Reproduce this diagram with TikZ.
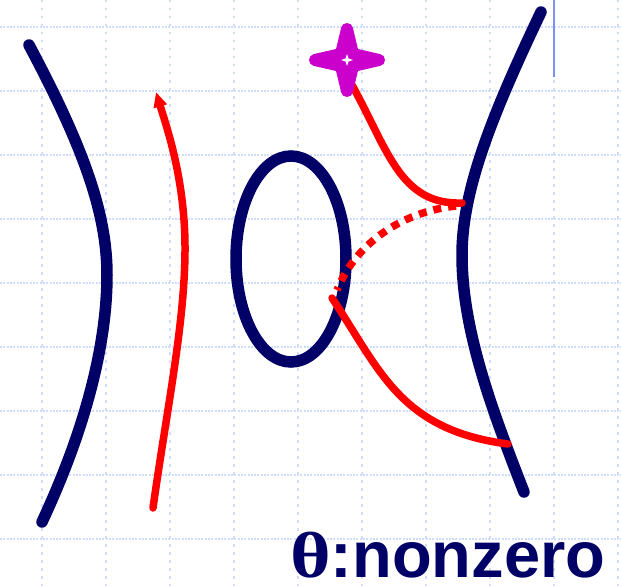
\documentclass[tikz,border=0pt]{standalone}
\usepackage{fontspec}
\setmainfont{Liberation Sans}
\newfontfamily\greekserif{Liberation Serif}
\usetikzlibrary{arrows.meta}
\definecolor{navy}{RGB}{0,0,102}
\definecolor{gridblue}{RGB}{208,220,252}
\definecolor{vline}{RGB}{128,144,240}
\definecolor{starmag}{RGB}{204,0,204}
\begin{document}
\begin{tikzpicture}[x=1pt,y=-1pt,
  gridh/.style={gridblue,line width=2pt,dash pattern=on 2pt off 1.3pt},
  gridv/.style={gridblue,line width=2pt,dash pattern=on 2.5pt off 5.5pt},
  conic/.style={navy,line width=11.5pt,line cap=round},
  ray/.style={red,line width=7.5pt,line cap=round},
  dashray/.style={red,line width=7.5pt,dash pattern=on 8pt off 7pt},
  label/.style={navy,inner sep=0pt,text depth=0pt,font=\fontsize{65}{65}\selectfont\bfseries}]
\useasboundingbox (0,0) rectangle (621,586);
% grid
\foreach \y in {27,91,155,219,283,347,411,475,539} \draw[gridh] (0,\y) -- (621,\y);
\foreach \x in {42,106,170,234,298,362,426,490,554,618} \draw[gridv] (\x,0) -- (\x,586);
\draw[vline,line width=2pt] (554,0) -- (554,77);
% conics
\draw[conic] (29,45) .. controls (85,150) and (107,215) .. (107,275) .. controls (107,345) and (85,430) .. (42,522);
\draw[conic] (541,12) .. controls (492,115) and (462,190) .. (462,255) .. controls (462,330) and (492,410) .. (524,492);
\draw[conic] (291,259) ellipse [x radius=55, y radius=103];
% rays
\coordinate (a0) at (153,508);
\coordinate (a1) at (156,92);
\draw[ray,-{Triangle[length=15pt,width=13pt]}] (a0) .. controls (168,400) and (190,300) .. (184,220) .. controls (180,165) and (166,125) .. (a1);
\coordinate (b0) at (352,85);
\coordinate (b1) at (462,203);
\draw[ray] (b0) .. controls (388,150) and (400,205) .. (b1);
\coordinate (c0) at (456,206);
\coordinate (c1) at (337,290);
\draw[dashray] (c0) .. controls (400,212) and (355,245) .. (c1);
\coordinate (d0) at (332,298);
\coordinate (d1) at (508,444);
\draw[ray] (d0) .. controls (380,370) and (400,430) .. (d1);
% star
\fill[starmag,draw=starmag,line width=12pt,line join=round]
  (347,29) -- (353,54) -- (379,60) -- (353,66) -- (347,91) -- (341,66) -- (315,60) -- (341,54) -- cycle;
\fill[white] (347,54) -- (348.5,58.5) -- (353,60) -- (348.5,61.5) -- (347,66) -- (345.5,61.5) -- (341,60) -- (345.5,58.5) -- cycle;
% label
\node[label,anchor=base west] (lab) at (290,577) {\scalebox{1.2}[1]{\greekserif θ}:nonzero};
\end{tikzpicture}
\end{document}
